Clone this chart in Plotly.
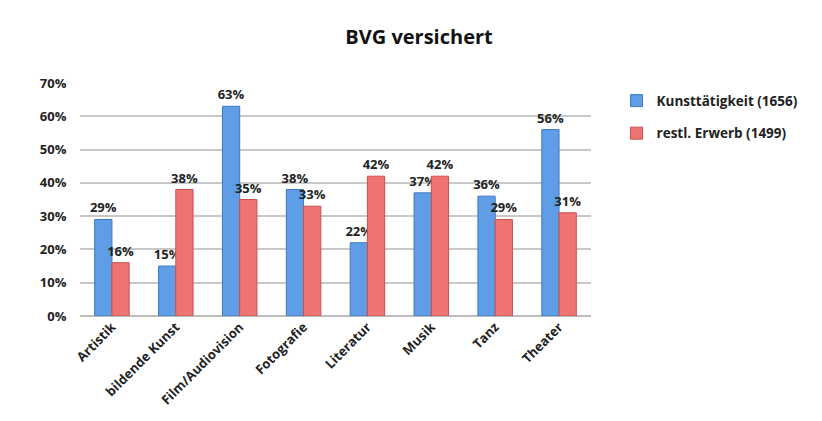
import plotly.graph_objects as go

categories = ["Artistik", "bildende Kunst", "Film/Audiovision", "Fotografie", "Literatur", "Musik", "Tanz", "Theater"]
kunst = [29, 15, 63, 38, 22, 37, 36, 56]
erwerb = [16, 38, 35, 33, 42, 42, 29, 31]
series_names = ["Kunsttätigkeit (1656)", "restl. Erwerb (1499)"]
y_ticks = [0, 10, 20, 30, 40, 50, 60, 70]
y_tick_labels = [f"{v}%" for v in y_ticks]

font_fam = "Open Sans, Liberation Sans, sans-serif"

fig = go.Figure()
fig.add_trace(go.Bar(
    x=categories, y=kunst, name=series_names[0], legendgroup="a",
    marker=dict(color="#5f9ee6", line=dict(color="#3d78c4", width=1)),
    text=[f"{v}%" for v in kunst], textposition="outside", cliponaxis=False,
    constraintext="none",
    textfont=dict(size=13, color="#222", family=font_fam, weight="bold"),
))
fig.add_trace(go.Bar(
    x=categories, y=erwerb, name=series_names[1], legendgroup="b",
    marker=dict(color="#ee7472", line=dict(color="#cc4f4d", width=1)),
    text=[f"{v}%" for v in erwerb], textposition="outside", cliponaxis=False,
    constraintext="none",
    textfont=dict(size=13, color="#222", family=font_fam, weight="bold"),
))

fig.update_layout(
    width=822, height=421,
    paper_bgcolor="white", plot_bgcolor="white",
    font=dict(family=font_fam, size=12, color="#222", weight="bold"),
    title=dict(text="BVG versichert", x=0.5, xanchor="center", y=0.93, yanchor="middle",
               font=dict(size=20, family=font_fam, color="#111", weight="bold")),
    margin=dict(l=72, r=239, t=75, b=113),
    barmode="group", bargap=0.46, bargroupgap=0.0,
    legend=dict(x=1.05, y=0.99, xanchor="left", yanchor="top",
                font=dict(size=13.5, family=font_fam, weight="bold"),
                tracegroupgap=12, itemwidth=30),
    showlegend=True,
)
fig.update_yaxes(range=[0, 70], tickmode="array", tickvals=y_ticks, ticktext=y_tick_labels,
                 showgrid=True, gridcolor="#c8c8c8", gridwidth=1.5,
                 zeroline=True, zerolinecolor="#bdbdbd", zerolinewidth=1.5,
                 ticks="outside", ticklen=10, tickcolor="white", automargin=False,
                 tickfont=dict(size=13, weight="bold"))
fig.update_xaxes(tickangle=-45, tickfont=dict(size=13, weight="bold"),
                 showline=False, ticks="", automargin=False)

fig.write_html("out.html")
